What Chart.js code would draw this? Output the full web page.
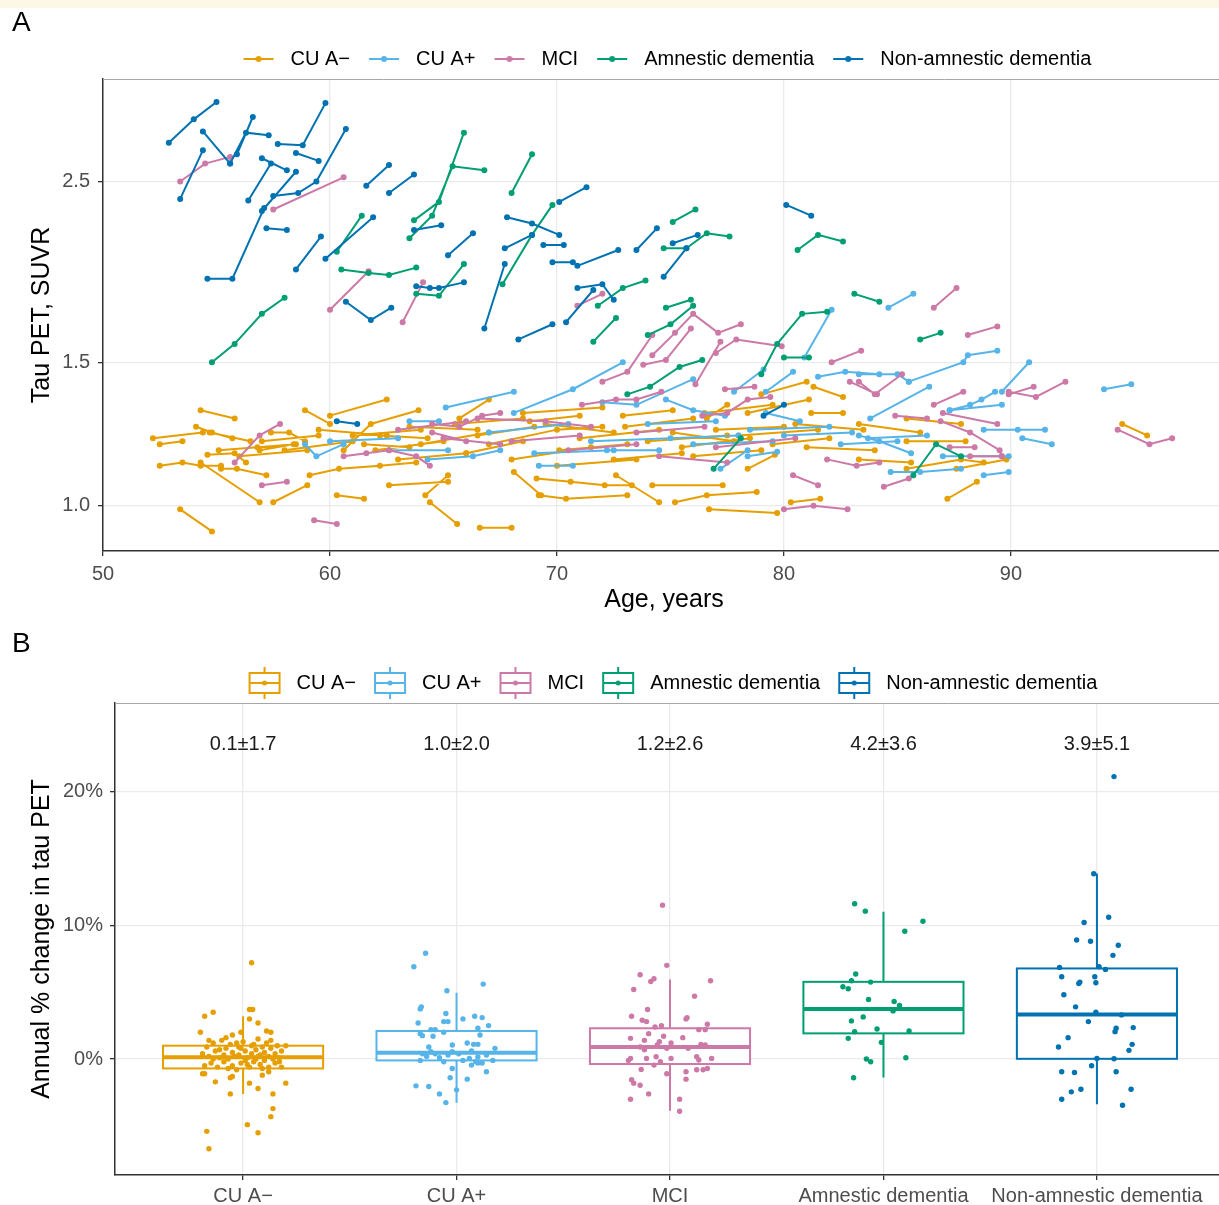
<!DOCTYPE html>
<html>
<head>
<meta charset="utf-8">
<script src="https://cdn.jsdelivr.net/npm/chart.js@4.4.1/dist/chart.umd.min.js"></script>
<style>
  body { margin: 0; background: #fff; overflow: hidden; font-family: "Liberation Sans", Arial, Helvetica, sans-serif; }
  #strip { position: absolute; left: 0; top: 0; width: 1219px; height: 8px; background: #fdf8e6; }
  .tag { position: absolute; left: 12px; font-size: 28px; line-height: 28px; color: #000; }
  #wrapA { position: absolute; left: 0; top: 0; width: 1219px; height: 620px; overflow: hidden; }
  #wrapB { position: absolute; left: 0; top: 620px; width: 1219px; height: 585px; overflow: hidden; }
</style>
</head>
<body>
<div id="wrapA"><canvas id="chartA" width="1229" height="620"></canvas></div>
<div id="wrapB"><canvas id="chartB" width="1229" height="585"></canvas></div>
<div id="strip"></div>
<div class="tag" style="top:8px">A</div>
<div class="tag" style="top:629px">B</div>
<script>
const FONT = "'Liberation Sans', Arial, Helvetica, sans-serif";
Chart.defaults.font.family = FONT;
Chart.defaults.color = '#4d4d4d';

const groupNames = ['CU A\u2212', 'CU A+', 'MCI', 'Amnestic dementia', 'Non-amnestic dementia'];
const groupColors = ['#E69F00', '#56B4E9', '#CC79A7', '#009E73', '#0072B2'];

// Panel A ticks
const ageTicks = [50, 60, 70, 80, 90];
const suvrTicks = [1.0, 1.5, 2.5];

// Panel A: one entry per participant, [age, SUVR] per visit
const trajCUneg = [
  [[52.2,1.21],[54.4,1.23]], [[52.5,1.19],[53.5,1.20]], [[52.5,1.12],[53.5,1.13],[54.3,1.12],[55.2,1.12]],
  [[54.3,1.31],[55.8,1.28]], [[54.1,1.25],[54.8,1.23],[55.7,1.21]], [[53.4,0.99],[54.8,0.93]],
  [[54.3,1.13],[56.9,1.01]], [[57.5,1.01],[59.0,1.06]], [[54.7,1.23],[56.5,1.20]],
  [[55.1,1.17],[56.8,1.18],[58.5,1.19]], [[54.6,1.155],[55.8,1.16],[56.3,1.13]], [[55.2,1.11],[55.9,1.11],[57.2,1.09]],
  [[57.4,1.23],[58.2,1.23],[58.9,1.20]], [[58.9,1.31],[60.0,1.26]], [[60.0,1.29],[62.5,1.35]],
  [[60.3,1.03],[61.5,1.02]], [[56.9,1.17],[58.4,1.19]], [[59.1,1.09],[60.4,1.11],[62.2,1.12],[63.8,1.13]],
  [[60.6,1.17],[61.8,1.26],[63.9,1.31]], [[62.6,1.06],[65.2,1.07]], [[64.2,1.03],[65.2,1.09]],
  [[64.4,1.01],[65.6,0.95]], [[66.6,0.94],[68.0,0.94]], [[62.2,1.22],[64.3,1.21]],
  [[65.7,1.28],[67.0,1.35]], [[69.2,1.03],[70.4,1.02],[73.1,1.03]], [[69.1,1.08],[70.6,1.07],[72.1,1.06],[73.3,1.06]],
  [[74.2,1.06],[77.3,1.06]], [[75.2,1.01],[76.6,1.03],[78.8,1.04]], [[76.7,0.99],[79.7,0.98]],
  [[80.3,1.01],[81.6,1.02]], [[72.6,1.09],[74.5,1.01]], [[68.1,1.10],[69.3,1.03]],
  [[72.9,1.29],[75.1,1.31]], [[76.6,1.28],[77.5,1.33]], [[78.4,1.30],[81.1,1.35]],
  [[81.2,1.30],[82.6,1.30]], [[81.3,1.40],[82.6,1.36]], [[78.4,1.11],[79.6,1.155]],
  [[75.1,1.23],[77.8,1.20]], [[70.1,1.17],[73.1,1.19]], [[68.8,1.27],[71.0,1.29]],
  [[83.3,1.26],[86.0,1.23]], [[85.4,1.28],[87.8,1.26]], [[85.4,1.20],[88.0,1.20]],
  [[83.3,1.14],[85.6,1.13]], [[85.4,1.11],[87.8,1.14],[88.8,1.13]], [[87.6,1.11],[89.8,1.14]],
  [[87.2,1.02],[88.5,1.07]], [[94.9,1.26],[96.0,1.22]], [[66.5,1.22],[69.0,1.25]],
  [[67.0,1.19],[70.0,1.24],[72.0,1.25]], [[66.0,1.16],[68.5,1.20]], [[68.0,1.14],[71.5,1.18]],
  [[69.5,1.26],[72.5,1.23]], [[71.0,1.21],[74.5,1.24]], [[73.0,1.25],[76.0,1.28]],
  [[74.0,1.20],[77.5,1.22]], [[75.5,1.18],[78.5,1.21]], [[77.0,1.24],[80.0,1.25]],
  [[78.0,1.22],[81.5,1.24]], [[79.5,1.19],[82.0,1.21]], [[76.0,1.15],[79.0,1.17]],
  [[72.5,1.14],[75.5,1.16]], [[70.0,1.12],[73.5,1.14]], [[64.0,1.19],[67.0,1.23]],
  [[62.0,1.17],[65.0,1.20]], [[61.0,1.22],[64.0,1.24]], [[63.0,1.14],[66.0,1.16]],
  [[58.0,1.17],[61.0,1.20]], [[56.0,1.15],[59.0,1.17]], [[59.5,1.24],[62.5,1.22]],
  [[65.5,1.26],[68.5,1.28]], [[68.5,1.30],[72.0,1.32]], [[76.5,1.30],[79.5,1.33]],
  [[80.5,1.26],[83.5,1.24]], [[81.0,1.18],[84.0,1.17]], [[79.0,1.37],[81.0,1.42]],
  [[57.0,1.20],[59.5,1.22]], [[61.5,1.19],[63.5,1.18]], [[63.5,1.25],[66.5,1.24]]
];
const trajCUpos = [
  [[84.6,1.75],[85.7,1.82]], [[85.5,1.42],[87.9,1.50],[88.1,1.53],[89.4,1.55]], [[89.6,1.38],[90.8,1.50]],
  [[94.1,1.39],[95.3,1.41]], [[83.8,1.28],[86.4,1.40]], [[87.3,1.31],[88.2,1.33],[88.7,1.35],[89.3,1.38]],
  [[87.3,1.31],[89.6,1.33]], [[83.3,1.45],[85.0,1.45],[85.5,1.42]], [[88.8,1.24],[90.3,1.24],[91.5,1.24]],
  [[90.5,1.21],[91.8,1.19]], [[84.7,1.10],[86.0,1.10],[87.8,1.11]], [[88.8,1.09],[89.9,1.10]],
  [[83.3,1.22],[84.2,1.20],[85.6,1.16]], [[83.7,1.21],[86.3,1.22]], [[87.0,1.15],[89.9,1.15]],
  [[65.1,1.32],[68.1,1.38]], [[68.1,1.30],[70.7,1.39],[72.9,1.50]], [[74.8,1.35],[76.0,1.31],[77.4,1.29]],
  [[72.0,1.34],[73.5,1.33],[76.0,1.43]], [[77.8,1.38],[79.1,1.47]], [[80.9,1.52],[82.1,1.74]],
  [[79.2,1.38],[80.4,1.46]], [[81.5,1.44],[82.7,1.46],[84.2,1.45]], [[77.2,1.11],[78.4,1.17]],
  [[69.2,1.12],[70.7,1.12]], [[72.2,1.17],[74.5,1.17]], [[78.4,1.15],[79.7,1.165]],
  [[79.2,1.30],[80.7,1.27]], [[63.5,1.27],[64.8,1.27]], [[58.9,1.19],[59.4,1.15],[60.6,1.19]],
  [[62.6,1.17],[65.2,1.17]], [[64.3,1.14],[66.3,1.15],[67.5,1.17]], [[60.0,1.20],[63.0,1.21]],
  [[67.0,1.23],[70.5,1.26]], [[71.5,1.20],[75.0,1.21],[78.0,1.22]], [[74.0,1.26],[77.0,1.27]],
  [[76.0,1.19],[79.5,1.20]], [[78.5,1.24],[82.0,1.25]], [[80.0,1.22],[83.0,1.23]],
  [[82.5,1.19],[85.0,1.20]], [[69.0,1.16],[72.5,1.17]]
];
const trajMCI = [
  [[53.4,2.50],[54.5,2.63],[55.6,2.68]], [[57.5,2.31],[60.6,2.53]], [[60.0,1.74],[61.7,1.94]],
  [[63.2,1.68],[64.1,1.88]], [[70.9,1.76],[72.0,1.82]], [[86.6,1.75],[87.6,1.85]],
  [[88.1,1.62],[89.4,1.66]], [[83.3,1.42],[84.0,1.37],[85.2,1.45]], [[86.6,1.33],[87.9,1.38]],
  [[84.9,1.29],[86.3,1.28]], [[89.9,1.37],[91.0,1.40]], [[89.9,1.38],[91.1,1.36],[92.4,1.42]],
  [[94.7,1.24],[96.1,1.19],[97.1,1.21]], [[87.0,1.30],[89.4,1.26]], [[86.9,1.27],[88.2,1.23],[89.5,1.17],[89.6,1.15]],
  [[84.4,1.055],[85.5,1.08]], [[88.2,1.15],[89.6,1.15]], [[87.3,1.18],[88.4,1.18]],
  [[72.0,1.42],[73.1,1.46],[74.2,1.62]], [[73.8,1.49],[74.8,1.51],[75.9,1.65]],
  [[74.2,1.53],[75.2,1.63],[76.0,1.72],[77.1,1.63],[78.1,1.67]], [[76.1,1.41],[77.2,1.59]],
  [[77.0,1.54],[77.9,1.60],[79.9,1.57]], [[82.1,1.50],[83.4,1.55]], [[82.9,1.42],[84.1,1.37]],
  [[76.4,1.29],[77.5,1.30],[78.4,1.35],[79.4,1.36]], [[77.4,1.39],[78.7,1.40]],
  [[71.1,1.33],[72.6,1.35],[73.5,1.35],[74.6,1.38]], [[80.4,1.09],[81.5,1.06]],
  [[80.0,0.99],[81.3,1.00],[82.8,0.99]], [[81.9,1.14],[83.2,1.12],[84.2,1.13]], [[57.0,1.06],[58.1,1.07]],
  [[59.3,0.96],[60.3,0.95]], [[55.8,1.13],[56.9,1.22],[57.8,1.26]],
  [[60.6,1.15],[61.6,1.16],[62.6,1.17],[63.8,1.15],[64.4,1.12]], [[64.5,1.26],[65.7,1.25],[66.7,1.29],[67.5,1.30]],
  [[64.5,1.23],[66.0,1.20]], [[63.0,1.24],[66.0,1.27]], [[66.5,1.28],[69.5,1.27],[71.5,1.25]],
  [[68.0,1.20],[71.0,1.22]], [[70.5,1.17],[73.5,1.19]], [[73.5,1.23],[76.5,1.25]],
  [[74.5,1.15],[77.5,1.13]], [[65.0,1.21],[67.5,1.19]], [[77.0,1.18],[80.5,1.21]]
];
const trajAmn = [
  [[54.8,1.50],[55.8,1.58],[57.0,1.72],[58.0,1.80]], [[63.5,2.13],[64.5,2.27],[65.4,2.61],[66.8,2.58]],
  [[63.7,2.24],[64.8,2.36],[65.9,2.87]], [[60.3,2.05],[61.4,2.27]], [[60.5,1.95],[61.7,1.93],[62.6,1.92],[63.8,1.96]],
  [[63.8,1.82],[64.8,1.81],[65.9,1.98]], [[68.0,2.42],[68.9,2.70]], [[67.6,1.87],[68.9,2.15],[69.8,2.34]],
  [[75.1,2.23],[76.1,2.31]], [[74.7,2.07],[75.7,2.07],[76.6,2.16],[77.6,2.14]], [[80.6,2.06],[81.5,2.15],[82.6,2.11]],
  [[71.8,1.76],[72.9,1.85],[73.9,1.89]], [[74.8,1.75],[75.9,1.79]], [[83.1,1.82],[84.2,1.78]],
  [[86.0,1.60],[86.9,1.63]], [[73.1,1.37],[74.1,1.40],[75.4,1.48],[76.4,1.51]], [[71.6,1.59],[72.6,1.70]],
  [[74.0,1.62],[75.0,1.67],[76.0,1.76]], [[79.0,1.45],[79.7,1.58],[80.8,1.72],[81.9,1.73]],
  [[80.0,1.52],[81.1,1.52]], [[76.9,1.11],[78.1,1.21]], [[85.7,1.09],[86.7,1.19],[87.8,1.15]]
];
const trajNonAmn = [
  [[52.9,2.79],[54.0,2.98],[55.0,3.13]], [[53.4,2.38],[54.4,2.73]], [[54.4,2.88],[55.6,2.63]],
  [[55.6,2.63],[56.3,2.87],[57.3,2.85]], [[55.9,2.70],[56.6,3.00]], [[57.7,2.78],[58.8,2.77],[59.8,3.12]],
  [[58.5,2.71],[59.5,2.65]], [[57.0,2.67],[58.1,2.58]], [[56.4,2.37],[57.4,2.63]],
  [[57.0,2.30],[58.5,2.57]], [[54.6,1.90],[55.7,1.90],[57.1,2.32]], [[57.5,2.40],[58.6,2.42],[59.4,2.50],[60.7,2.90]],
  [[57.2,2.19],[58.1,2.18]], [[58.5,1.95],[59.6,2.14]], [[59.8,2.01],[61.9,2.26]],
  [[61.6,2.47],[62.6,2.62]], [[62.6,2.42],[63.7,2.55]], [[63.7,2.18],[64.9,2.21]],
  [[65.2,2.03],[66.3,2.16]], [[63.8,1.86],[64.4,1.85],[64.8,1.85],[65.9,1.88]], [[60.7,1.78],[61.8,1.69],[62.7,1.75]],
  [[80.1,2.34],[81.2,2.27]], [[70.1,2.36],[71.3,2.46]], [[67.8,2.26],[68.9,2.22],[70.1,2.15]],
  [[67.7,2.07],[68.9,2.15]], [[69.4,2.09],[70.3,2.09]], [[69.8,1.99],[70.7,1.99]],
  [[70.9,1.97],[72.7,2.06]], [[73.5,2.06],[74.4,2.19]], [[75.1,2.10],[76.2,2.15]],
  [[74.7,1.91],[75.7,2.07]], [[66.8,1.65],[67.7,1.98]], [[70.9,1.85],[72.0,1.87],[72.5,1.79]],
  [[70.4,1.68],[71.6,1.84]], [[68.3,1.60],[69.8,1.67]], [[79.1,1.29],[80.0,1.33]], [[60.3,1.27],[61.2,1.26]]
];

// Panel B: jittered points as [offset from category, annual % change]
const ptsCUneg = [
  [0.04,7.2],[-0.14,3.5],[-0.18,3.2],[0.03,3.7],[0.045,3.7],[0.03,3.0],[0.07,2.7],[-0.2,2.0],[-0.01,2.0],[-0.05,1.8],
  [-0.08,1.6],[0.11,2.1],[0.13,2.0],[0.2,1.0],[-0.19,-1.1],[-0.18,-1.1],[-0.13,-1.7],[-0.06,-2.6],[0.03,-1.8],[0.07,-2.2],
  [0.14,-2.6],[0.14,-3.7],[0.13,-4.3],[0.2,-1.8],[0.02,-4.9],[0.07,-5.5],[-0.17,-5.4],[-0.16,-6.7],[-0.06,-1.4],[-0.05,-1.3],
  [0.09,-1.2],[0.12,-0.95],[0.18,-0.6],
  [-0.19,0.4],[-0.17,0.9],[-0.16,0.2],[-0.15,-0.3],[-0.14,1.2],[-0.13,0.6],[-0.12,-0.6],[-0.11,0.1],[-0.10,1.4],[-0.09,0.3],
  [-0.09,-0.2],[-0.08,0.8],[-0.07,0.0],[-0.06,1.1],[-0.05,-0.5],[-0.05,0.5],[-0.04,0.2],[-0.03,-0.8],[-0.02,0.9],[-0.02,0.3],
  [-0.01,-0.3],[0.0,1.3],[0.01,0.6],[0.01,-0.1],[0.02,0.1],[0.03,-0.6],[0.04,1.0],[0.04,0.4],[0.05,-0.2],[0.06,0.7],
  [0.06,0.0],[0.07,1.5],[0.08,-0.4],[0.08,0.3],[0.09,0.9],[0.10,-0.1],[0.10,0.5],[0.11,1.2],[0.12,0.2],[0.12,-0.6],
  [0.13,0.8],[0.14,0.0],[0.15,0.4],[0.15,-0.3],[0.16,1.0],[0.17,0.1],[0.18,0.6],[-0.18,-0.5],[-0.16,1.4],[-0.11,0.7],
  [-0.07,-0.7],[-0.03,1.2],[0.02,-0.4],[0.05,1.1],[0.09,-0.7],[0.13,1.4],[0.17,-0.2],[-0.14,0.0],[-0.01,0.8],[0.07,0.2]
];
const ptsCUpos = [
  [-0.145,7.9],[-0.2,6.9],[0.125,5.6],[-0.045,5.1],[-0.165,3.9],[-0.17,3.75],[-0.05,3.4],[0.085,3.2],[0.12,3.1],[-0.06,2.8],
  [-0.04,2.8],[0.03,3.0],[-0.18,2.7],[0.15,2.5],[-0.12,2.2],[-0.1,2.2],[-0.06,2.0],[-0.17,1.9],[-0.16,1.75],[-0.11,1.7],
  [0.1,2.3],[0.11,1.8],[-0.02,1.05],[0.05,1.2],[0.08,1.1],[0.1,1.1],[0.18,0.8],[-0.13,0.9],[-0.12,0.55],
  [-0.16,0.4],[-0.14,0.2],[-0.1,0.4],[-0.04,0.3],[0.01,0.4],[0.03,-0.1],[0.06,0.05],[0.09,-0.2],[0.12,-0.3],[0.17,-0.1],
  [0.14,0.3],[-0.17,-0.1],[-0.08,0.1],[-0.02,0.55],[0.07,0.6],[0.1,0.15],[-0.06,-0.2],
  [0.07,-0.45],[0.1,-0.3],[0.14,-0.95],[-0.02,-0.7],[-0.03,-1.4],[0.05,-1.5],[0.0,-2.3],[-0.08,-2.6],[-0.05,-3.25],
  [-0.19,-2.0],[-0.13,-2.05]
];
const ptsMCI = [
  [-0.035,11.5],[-0.015,7.0],[-0.14,6.3],[-0.09,5.8],[-0.075,6.0],[0.19,5.85],[-0.17,5.2],[0.115,4.7],[-0.105,3.7],
  [-0.18,3.2],[-0.13,2.9],[-0.11,2.8],[0.075,3.0],[0.08,3.1],[0.175,2.6],[0.165,2.2],[0.135,2.2],[-0.04,2.5],[-0.07,2.4],
  [-0.1,1.9],[-0.03,1.7],[0.06,1.6],[-0.185,1.55],[-0.12,1.4],[-0.05,1.3],[0.005,1.2],
  [-0.14,0.9],[-0.12,0.7],[-0.06,1.05],[-0.015,0.8],[0.085,0.8],[0.145,1.1],[0.165,1.05],
  [-0.185,0.05],[-0.11,0.05],[-0.065,0.17],[0.005,0.05],[0.125,0.17],[0.195,0.05],[-0.195,-0.1],[-0.045,-0.2],[0.135,-0.07],
  [-0.135,-0.77],[-0.075,-0.45],[-0.015,-1.1],[0.075,-0.95],[0.075,-1.5],[0.125,-0.8],[0.155,-0.8],[0.175,-0.7],
  [-0.18,-1.55],[-0.17,-1.8],[-0.14,-1.95],[-0.1,-2.6],[-0.185,-3.0],[0.045,-3.0],[0.045,-3.9]
];
const ptsAmn = [
  [-0.135,11.6],[-0.085,11.05],[0.185,10.3],[0.1,9.55],[-0.13,6.35],[-0.15,5.85],[-0.06,5.75],[-0.19,5.4],[-0.165,5.25],
  [-0.07,4.45],[0.05,4.3],[0.075,4.0],[0.045,3.6],[-0.095,3.15],[-0.15,2.85],[-0.03,2.25],[-0.135,2.05],[0.12,2.1],
  [-0.165,1.55],[-0.01,1.25],[-0.08,0.0],[-0.06,-0.2],[0.105,0.1],[-0.14,-1.4]
];
const ptsNonAmn = [
  [0.08,21.1],[-0.015,13.85],[0.055,10.6],[-0.06,10.2],[-0.095,8.9],[-0.03,8.8],[0.1,8.5],[0.075,7.75],
  [-0.175,6.85],[0.01,6.9],[0.04,6.7],[-0.165,6.15],[-0.01,6.15],[-0.08,5.75],[-0.085,5.65],[-0.005,5.7],
  [-0.155,4.8],[-0.1,3.9],[-0.005,3.5],[0.115,3.3],[-0.04,2.8],[0.09,2.3],[0.085,2.05],[0.17,2.35],[-0.135,1.6],
  [0.165,1.1],[-0.18,0.9],[0.15,0.65],[0.0,0.05],[0.08,0.02],[-0.025,-0.5],[-0.165,-0.95],[-0.105,-1.0],[0.09,-0.95],
  [-0.075,-2.25],[-0.12,-2.45],[0.16,-2.25],[-0.165,-3.0],[0.12,-3.45]
];

// Panel B box statistics and labels
const boxLow    = [-2.6, -3.26, -3.86, -1.37, -3.38];
const boxQ1     = [-0.7, -0.1, -0.37, 1.92, 0.02];
const boxMedian = [0.13, 0.47, 0.9, 3.75, 3.33];
const boxQ3     = [1.0, 2.1, 2.3, 5.77, 6.77];
const boxHigh   = [3.2, 4.95, 5.95, 11.0, 13.86];
const meanSdText = ['0.1\u00b11.7', '1.0\u00b12.0', '1.2\u00b12.6', '4.2\u00b13.6', '3.9\u00b15.1'];
const pctTicks = [0, 10, 20];

// turn participant lists into one line per group, broken by null gaps
function toLine(subjects) {
  const out = [];
  subjects.forEach((s, k) => {
    if (k > 0) out.push({x: s[0][0], y: null});
    s.forEach(p => out.push({x: p[0], y: p[1]}));
  });
  return out;
}

function glyphLine(color) {
  const c = document.createElement('canvas');
  c.width = 32; c.height = 12;
  const g = c.getContext('2d');
  g.strokeStyle = color; g.lineWidth = 2;
  g.beginPath(); g.moveTo(1, 6); g.lineTo(31, 6); g.stroke();
  g.fillStyle = color; g.beginPath(); g.arc(16, 6, 3, 0, Math.PI * 2); g.fill();
  return c;
}
function glyphBox(color) {
  const c = document.createElement('canvas');
  c.width = 34; c.height = 32;
  const g = c.getContext('2d');
  g.strokeStyle = color; g.lineWidth = 2;
  g.beginPath(); g.moveTo(17, 0); g.lineTo(17, 6); g.moveTo(17, 26); g.lineTo(17, 32); g.stroke();
  g.strokeRect(2, 6, 30, 20);
  g.beginPath(); g.moveTo(2, 16); g.lineTo(32, 16); g.stroke();
  g.fillStyle = color; g.beginPath(); g.arc(17, 16, 2.5, 0, Math.PI * 2); g.fill();
  return c;
}

const frame = {
  id: 'frame',
  afterDraw(chart) {
    const {ctx, chartArea: a} = chart;
    ctx.save();
    ctx.strokeStyle = '#a6a6a6'; ctx.lineWidth = 1;
    ctx.beginPath();
    ctx.moveTo(a.left, a.top + 0.5); ctx.lineTo(a.right, a.top + 0.5);
    ctx.stroke();
    ctx.restore();
  }
};

function legendOpts(glyphs) {
  return {
    position: 'top', fullSize: false,
    labels: {
      usePointStyle: true, pointStyleWidth: 44, padding: 12, color: '#000',
      font: {size: 20},
      generateLabels: chart => chart.data.datasets.map((ds, i) => ({
        text: ds.label, pointStyle: glyphs[i], fillStyle: groupColors[i], strokeStyle: groupColors[i],
        lineWidth: 0, hidden: false, datasetIndex: i, fontColor: '#000'
      }))
    }
  };
}

// ---------- Panel A ----------
const trajs = [trajCUneg, trajCUpos, trajMCI, trajAmn, trajNonAmn];
new Chart(document.getElementById('chartA'), {
  type: 'scatter',
  data: {
    datasets: trajs.map((t, i) => ({
      label: groupNames[i],
      data: toLine(t),
      showLine: true,
      spanGaps: false,
      borderColor: groupColors[i],
      backgroundColor: groupColors[i],
      borderWidth: 2,
      pointRadius: 3,
      pointBorderWidth: 0,
      order: 5 - i
    }))
  },
  options: {
    responsive: false, animation: false, events: [],
    layout: {padding: {top: 37, right: 0, left: 0, bottom: 0}},
    plugins: {legend: legendOpts(groupColors.map(glyphLine)), tooltip: {enabled: false}},
    scales: {
      x: {
        type: 'linear', min: 50, max: 99.43,
        afterBuildTicks: s => { s.ticks = ageTicks.map(v => ({value: v})); },
        afterFit: s => { s.height = 69; },
        grid: {color: '#ebebeb', lineWidth: 1.3, tickColor: '#333', tickLength: 5},
        border: {color: '#333', width: 1.5},
        ticks: {font: {size: 20}, color: '#4d4d4d', padding: 6, maxRotation: 0},
        title: {display: true, text: 'Age, years', font: {size: 25}, color: '#000', padding: {top: 0, bottom: 5}}
      },
      y: {
        type: 'logarithmic', min: 0.88, max: 3.34,
        afterBuildTicks: s => { s.ticks = suvrTicks.map(v => ({value: v})); },
        afterFit: s => { s.width = 103; },
        grid: {color: '#ebebeb', lineWidth: 1.3, tickColor: '#333', tickLength: 5},
        border: {color: '#333', width: 1.5},
        ticks: {font: {size: 20}, color: '#4d4d4d', padding: 8, callback: v => Number(v).toFixed(1)},
        title: {display: true, text: 'Tau PET, SUVR', font: {size: 25}, color: '#000', padding: {top: 27, bottom: 0}}
      }
    }
  },
  plugins: [frame]
});

// ---------- Panel B ----------
const pts = [ptsCUneg, ptsCUpos, ptsMCI, ptsAmn, ptsNonAmn];

const boxes = {
  id: 'boxes',
  beforeDatasetsDraw(chart) {
    const {ctx, scales: {x, y}} = chart;
    ctx.save();
    groupColors.forEach((col, i) => {
      const xc = x.getPixelForValue(i + 1);
      const xl = x.getPixelForValue(i + 1 - 0.375);
      const xr = x.getPixelForValue(i + 1 + 0.375);
      const yq1 = y.getPixelForValue(boxQ1[i]), yq3 = y.getPixelForValue(boxQ3[i]);
      ctx.strokeStyle = col; ctx.lineWidth = 2;
      ctx.beginPath();
      ctx.moveTo(xc, y.getPixelForValue(boxHigh[i])); ctx.lineTo(xc, yq3);
      ctx.moveTo(xc, yq1); ctx.lineTo(xc, y.getPixelForValue(boxLow[i]));
      ctx.stroke();
      ctx.fillStyle = '#fff';
      ctx.fillRect(xl, yq3, xr - xl, yq1 - yq3);
      ctx.strokeRect(xl, yq3, xr - xl, yq1 - yq3);
      ctx.lineWidth = 4;
      const ym = y.getPixelForValue(boxMedian[i]);
      ctx.beginPath(); ctx.moveTo(xl, ym); ctx.lineTo(xr, ym); ctx.stroke();
    });
    ctx.restore();
  },
  afterDatasetsDraw(chart) {
    const {ctx, scales: {x, y}} = chart;
    ctx.save();
    ctx.font = '20px ' + FONT;
    ctx.fillStyle = '#1a1a1a';
    ctx.textAlign = 'center'; ctx.textBaseline = 'middle';
    meanSdText.forEach((t, i) => ctx.fillText(t, x.getPixelForValue(i + 1), y.getPixelForValue(23.5)));
    ctx.restore();
  }
};

new Chart(document.getElementById('chartB'), {
  type: 'scatter',
  data: {
    datasets: pts.map((p, i) => ({
      label: groupNames[i],
      data: p.map(([dx, v]) => ({x: i + 1 + dx, y: v})),
      backgroundColor: groupColors[i],
      borderWidth: 0,
      pointRadius: 2.7
    }))
  },
  options: {
    responsive: false, animation: false, events: [],
    layout: {padding: {top: 41, right: 0, left: 0, bottom: 0}},
    plugins: {legend: legendOpts(groupColors.map(glyphBox)), tooltip: {enabled: false}},
    scales: {
      x: {
        type: 'linear', min: 0.4, max: 5.6,
        afterBuildTicks: s => { s.ticks = [1, 2, 3, 4, 5].map(v => ({value: v})); },
        afterFit: s => { s.height = 30; },
        grid: {color: '#ebebeb', lineWidth: 1.3, tickColor: '#333', tickLength: 5},
        border: {color: '#333', width: 1.5},
        ticks: {font: {size: 20}, color: '#4d4d4d', padding: 4, maxRotation: 0, callback: v => groupNames[v - 1]}
      },
      y: {
        type: 'linear', min: -8.66, max: 26.6,
        afterBuildTicks: s => { s.ticks = pctTicks.map(v => ({value: v})); },
        afterFit: s => { s.width = 115; },
        grid: {color: '#ebebeb', lineWidth: 1.3, tickColor: '#333', tickLength: 5},
        border: {color: '#333', width: 1.5},
        ticks: {font: {size: 20}, color: '#4d4d4d', padding: 7, callback: v => v + '%'},
        title: {display: true, text: 'Annual % change in tau PET', font: {size: 25}, color: '#000', padding: {top: 27, bottom: 0}}
      }
    }
  },
  plugins: [boxes, frame]
});
</script>
</body>
</html>
